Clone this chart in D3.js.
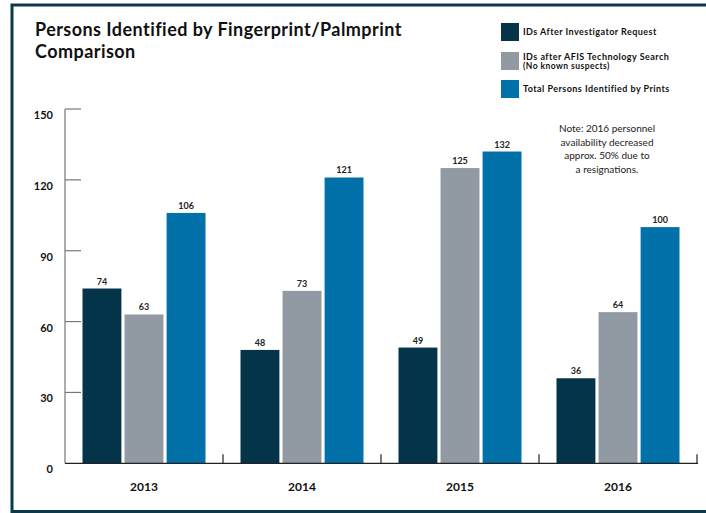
<!DOCTYPE html>
<html>
<head>
<meta charset="utf-8">
<script src="https://cdn.jsdelivr.net/npm/d3@7"></script>
<style>
  html, body { margin: 0; padding: 0; background: #fff; }
  svg { display: block; font-family: Lato, "Open Sans", sans-serif; }
</style>
</head>
<body>
<svg id="chart" width="706" height="513"></svg>
<script>
// Yearly identification counts
const years = ["2013", "2014", "2015", "2016"];
const seriesNames = [
  "IDs After Investigator Request",
  "IDs after AFIS Technology Search",
  "Total Persons Identified by Prints"
];
const investigatorIds = [74, 48, 49, 36];
const afisIds = [63, 73, 125, 64];
const totalIds = [106, 121, 132, 100];
const yTicks = [0, 30, 60, 90, 120, 150];
const colors = ["#04344a", "#9199a3", "#0371a9"];
const noteLines = [
  "Note: 2016 personnel",
  "availability decreased",
  "approx. 50% due to",
  "a resignations."
];

const seriesValues = [investigatorIds, afisIds, totalIds];
const svg = d3.select("#chart");

// Frame
svg.append("path")
  .attr("d", "M12,513 V5 H706 M12,511.5 H706")
  .attr("fill", "none")
  .attr("stroke", "#0b3a4d")
  .attr("stroke-width", 3);

// Title
const title = svg.append("text")
  .attr("font-size", 18).attr("font-weight", 700).attr("fill", "#111")
  .attr("letter-spacing", 0.45);
title.append("tspan").attr("x", 35).attr("y", 36).text("Persons Identified by Fingerprint/Palmprint");
title.append("tspan").attr("x", 35).attr("y", 58).text("Comparison");

// Scales
const x0 = d3.scaleBand().domain(years).range([65, 697]).paddingInner(0).paddingOuter(0);
const x1 = d3.scaleBand().domain(d3.range(3)).range([17.5, 140.5]).paddingInner(0.075);
const y = d3.scaleLinear().domain([0, 150]).range([463.3, 109]);

// Y axis (ticks pointing inward)
svg.append("line")
  .attr("x1", 65).attr("x2", 65)
  .attr("y1", y(150)).attr("y2", y(0))
  .attr("stroke", "#777").attr("stroke-width", 1.2);
svg.selectAll(".ytick").data(yTicks.filter(d => d > 0)).join("line")
  .attr("class", "ytick")
  .attr("x1", 65).attr("x2", 81)
  .attr("y1", d => y(d)).attr("y2", d => y(d))
  .attr("stroke", "#777").attr("stroke-width", 1.2);
svg.selectAll(".ylabel").data(yTicks).join("text")
  .attr("class", "ylabel")
  .attr("x", 53).attr("y", d => y(d) + 10)
  .attr("text-anchor", "end")
  .attr("font-size", 11).attr("font-weight", 700).attr("fill", "#111")
  .text(d => d);

// Bars
const groups = svg.selectAll(".year").data(years).join("g")
  .attr("class", "year")
  .attr("transform", d => `translate(${x0(d)},0)`);

groups.selectAll("rect")
  .data((yr, i) => seriesValues.map((vals, s) => ({ s, v: vals[i] })))
  .join("rect")
  .attr("x", d => x1(d.s))
  .attr("width", x1.bandwidth())
  .attr("y", d => y(d.v))
  .attr("height", d => y(0) - y(d.v))
  .attr("fill", d => colors[d.s]);

groups.selectAll(".val")
  .data((yr, i) => seriesValues.map((vals, s) => ({ s, v: vals[i] })))
  .join("text")
  .attr("class", "val")
  .attr("x", d => x1(d.s) + x1.bandwidth() / 2)
  .attr("y", d => y(d.v) - 4)
  .attr("text-anchor", "middle")
  .attr("font-size", 9).attr("font-weight", 700).attr("fill", "#222")
  .text(d => d.v);

// X axis baseline with group separators
svg.append("line")
  .attr("x1", 65).attr("x2", 698)
  .attr("y1", y(0)).attr("y2", y(0))
  .attr("stroke", "#222").attr("stroke-width", 1.3);
svg.selectAll(".xtick").data(years).join("line")
  .attr("class", "xtick")
  .attr("x1", d => x0(d) + x0.bandwidth()).attr("x2", d => x0(d) + x0.bandwidth())
  .attr("y1", y(0)).attr("y2", y(0) - 9)
  .attr("stroke", "#222").attr("stroke-width", 1.2);
svg.selectAll(".xlabel").data(years).join("text")
  .attr("class", "xlabel")
  .attr("x", d => x0(d) + x0.bandwidth() / 2)
  .attr("y", 491)
  .attr("text-anchor", "middle")
  .attr("font-size", 12).attr("font-weight", 700).attr("fill", "#111")
  .text(d => d);

// Legend
const legend = svg.append("g").attr("transform", "translate(501,23)");
const legendItems = [
  { lines: [seriesNames[0]], y: 0 },
  { lines: [seriesNames[1], "(No known suspects)"], y: 29 },
  { lines: [seriesNames[2]], y: 57 }
];
legendItems.forEach((item, i) => {
  legend.append("rect")
    .attr("x", 0).attr("y", item.y)
    .attr("width", 18).attr("height", 18)
    .attr("fill", colors[i]);
  const t = legend.append("text")
    .attr("font-size", 9).attr("font-weight", 700).attr("fill", "#111")
    .attr("letter-spacing", 0.45);
  if (item.lines.length === 1) {
    t.append("tspan").attr("x", 22).attr("y", item.y + 12).text(item.lines[0]);
  } else {
    t.append("tspan").attr("x", 22).attr("y", item.y + 8).text(item.lines[0]);
    t.append("tspan").attr("x", 22).attr("y", item.y + 16.5).attr("font-size", 8.5).text(item.lines[1]);
  }
});

// Note
svg.append("text")
  .attr("text-anchor", "middle")
  .attr("font-size", 10).attr("fill", "#222")
  .selectAll("tspan").data(noteLines).join("tspan")
  .attr("x", 607)
  .attr("y", (d, i) => 132 + i * 13.7)
  .text(d => d);
</script>
</body>
</html>
